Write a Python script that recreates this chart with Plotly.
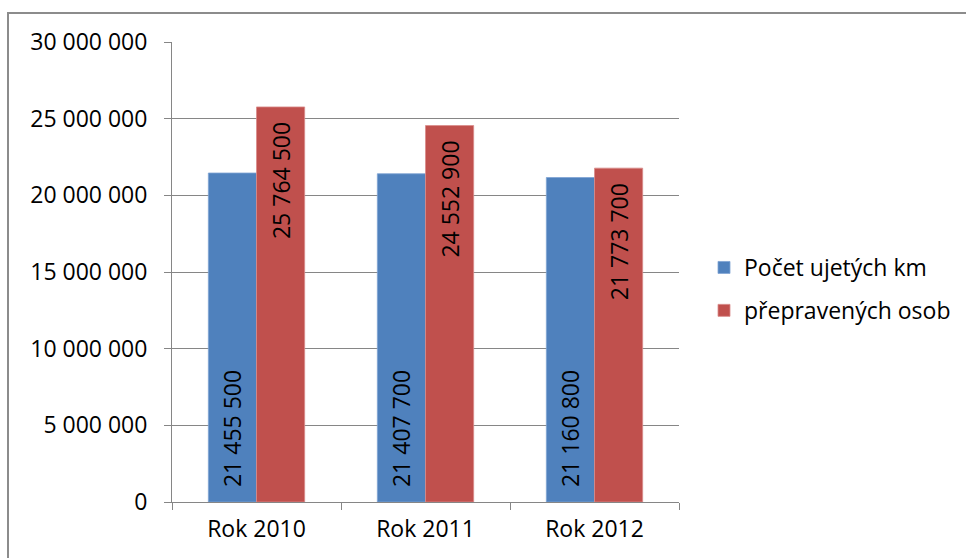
import plotly.graph_objects as go

categories = ["Rok 2010", "Rok 2011", "Rok 2012"]
km_values = [21455500, 21407700, 21160800]
osob_values = [25764500, 24552900, 21773700]
series_names = ["Počet ujetých km", "přepravených osob"]
tick_values = [0, 5000000, 10000000, 15000000, 20000000, 25000000, 30000000]

BLUE = "#4F81BD"
RED = "#C0504D"
FONT = "Open Sans"
FS = 23
W, H = 966, 558
L, R, T, B = 172, 287, 42, 56
PAD = "\u00a0\u00a0"

fig = go.Figure()
fig.add_trace(go.Bar(
    x=categories, y=km_values, name=series_names[0], legendgroup="a",
    marker=dict(color=BLUE, line=dict(color="#7FA3D3", width=0.8)),
    texttemplate=PAD + "%{y:,d}", textposition="inside", insidetextanchor="start",
    textangle=-90, textfont=dict(family=FONT, size=FS, color="black"),
))
fig.add_trace(go.Bar(
    x=categories, y=osob_values, name=series_names[1], legendgroup="b",
    marker=dict(color=RED, line=dict(color="#D98C8A", width=0.8)),
    texttemplate="%{y:,d}" + PAD, textposition="inside", insidetextanchor="end",
    textangle=-90, textfont=dict(family=FONT, size=FS, color="black"),
))

pw = W - L - R
ph = H - T - B
fig.add_shape(type="rect", xref="paper", yref="paper",
              x0=(8 - L) / pw, x1=(W + 20 - L) / pw,
              y0=-(H + 20 - (H - B)) / ph, y1=(H - B - 13) / ph,
              line=dict(color="#8C8C8C", width=2), layer="below")

fig.update_layout(
    width=W, height=H,
    margin=dict(l=L, r=R, t=T, b=B, autoexpand=False),
    paper_bgcolor="white", plot_bgcolor="white",
    separators=", ",
    barmode="group", bargap=0.43, bargroupgap=0,
    font=dict(family=FONT, size=FS, color="black"),
    uniformtext=dict(mode=False),
    showlegend=True,
    legend=dict(x=(704 - L) / pw, y=(H - B - 246) / ph, xanchor="left", yanchor="top",
                font=dict(family=FONT, size=FS, color="black"),
                tracegroupgap=10, itemwidth=30, bgcolor="rgba(0,0,0,0)"),
    xaxis=dict(showline=True, linecolor="#868686", linewidth=1,
               ticks="outside", ticklen=7, tickcolor="#868686", tickson="boundaries",
               ticklabelstandoff=6,
               tickfont=dict(family=FONT, size=FS, color="black"), showgrid=False),
    yaxis=dict(range=[0, 30000000], tickvals=tick_values, tickformat=",d",
               showline=True, linecolor="#868686", linewidth=1,
               ticks="outside", ticklen=7, tickcolor="#868686",
               showgrid=True, gridcolor="#868686", gridwidth=1,
               zeroline=False, ticklabelstandoff=12,
               tickfont=dict(family=FONT, size=FS, color="black")),
)

fig.write_html("out.html")
